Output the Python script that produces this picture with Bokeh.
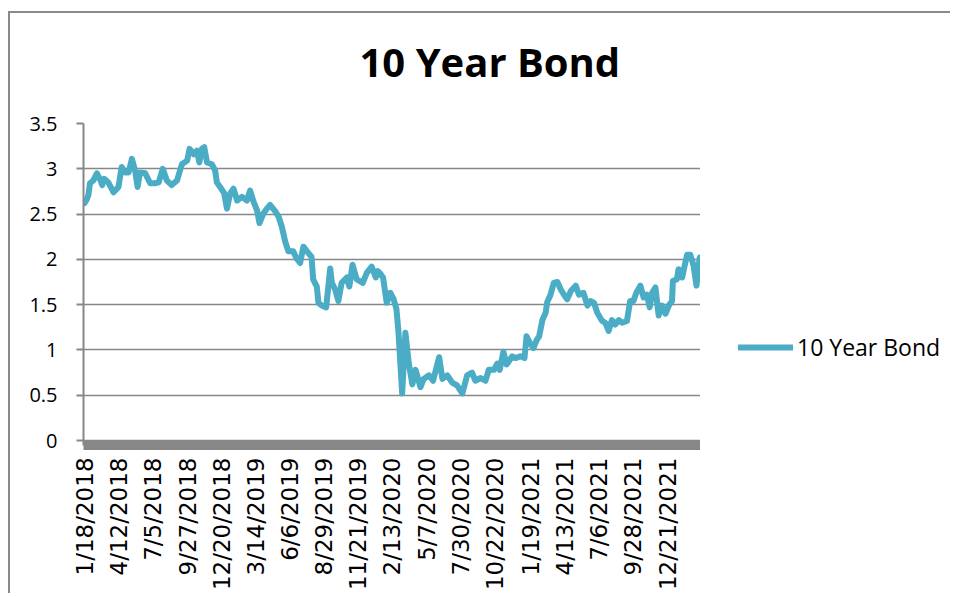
import numpy as np
import pandas as pd
from bokeh.plotting import figure
from bokeh.layouts import row
from bokeh.models import (ColumnDataSource, FixedTicker, NumeralTickFormatter,
                          Legend, LegendItem, Range1d, Title)
from bokeh.embed import file_html
from bokeh.resources import INLINE

title_text = "10 Year Bond"
series_name = "10 Year Bond"

dates = [
    "2018-01-16", "2018-01-22", "2018-01-26", "2018-01-30", "2018-02-07", "2018-02-16",
    "2018-02-26", "2018-03-01", "2018-03-06", "2018-03-16", "2018-03-29", "2018-04-10",
    "2018-04-18", "2018-04-26", "2018-05-05", "2018-05-13", "2018-05-21", "2018-05-27",
    "2018-06-02", "2018-06-15", "2018-06-27", "2018-07-09", "2018-07-18", "2018-07-28",
    "2018-08-07", "2018-08-19", "2018-09-01", "2018-09-13", "2018-09-26", "2018-10-02",
    "2018-10-12", "2018-10-20", "2018-10-26", "2018-11-01", "2018-11-07", "2018-11-14",
    "2018-11-26", "2018-12-04", "2018-12-08", "2018-12-16", "2018-12-26", "2019-01-02",
    "2019-01-10", "2019-01-18", "2019-01-27", "2019-02-08", "2019-02-20", "2019-02-28",
    "2019-03-08", "2019-03-17", "2019-03-23", "2019-04-02", "2019-04-10", "2019-04-18",
    "2019-05-01", "2019-05-09", "2019-05-17", "2019-05-25", "2019-06-02", "2019-06-14",
    "2019-06-22", "2019-07-01", "2019-07-09", "2019-07-21", "2019-07-29", "2019-08-02",
    "2019-08-11", "2019-08-15", "2019-08-23", "2019-09-03", "2019-09-13", "2019-09-17",
    "2019-09-25", "2019-10-03", "2019-10-11", "2019-10-24", "2019-10-30", "2019-11-07",
    "2019-11-17", "2019-12-02", "2019-12-12", "2019-12-24", "2020-01-03", "2020-01-08",
    "2020-01-13", "2020-01-21", "2020-01-30", "2020-02-08", "2020-02-16", "2020-02-23",
    "2020-02-28", "2020-03-08", "2020-03-16", "2020-03-24", "2020-04-02", "2020-04-10",
    "2020-04-22", "2020-04-30", "2020-05-13", "2020-05-23", "2020-06-07", "2020-06-15",
    "2020-06-27", "2020-07-09", "2020-07-21", "2020-08-03", "2020-08-15", "2020-08-27",
    "2020-09-04", "2020-09-17", "2020-09-29", "2020-10-07", "2020-10-20", "2020-10-28",
    "2020-11-03", "2020-11-12", "2020-11-20", "2020-12-04", "2020-12-12", "2020-12-24",
    "2021-01-03", "2021-01-08", "2021-01-16", "2021-01-25", "2021-02-02", "2021-02-08",
    "2021-02-16", "2021-02-24", "2021-02-28", "2021-03-08", "2021-03-16", "2021-03-25",
    "2021-04-02", "2021-04-10", "2021-04-18", "2021-04-27", "2021-05-09", "2021-05-17",
    "2021-05-28", "2021-06-07", "2021-06-15", "2021-06-23", "2021-07-01", "2021-07-13",
    "2021-07-21", "2021-07-29", "2021-08-06", "2021-08-14", "2021-08-23", "2021-08-31",
    "2021-09-12", "2021-09-20", "2021-09-28", "2021-10-05", "2021-10-15", "2021-10-23",
    "2021-10-31", "2021-11-07", "2021-11-13", "2021-11-21", "2021-11-29", "2021-12-07",
    "2021-12-16", "2021-12-24", "2022-01-01", "2022-01-03", "2022-01-13", "2022-01-17",
    "2022-01-26", "2022-01-30", "2022-02-07", "2022-02-15", "2022-02-23", "2022-03-02",
    "2022-03-10",
]

yields = [
    2.62, 2.66, 2.71, 2.84, 2.87, 2.95,
    2.86, 2.82, 2.89, 2.85, 2.74, 2.80,
    3.02, 2.96, 2.96, 3.11, 2.98, 2.80,
    2.96, 2.95, 2.84, 2.84, 2.85, 3.00,
    2.87, 2.82, 2.87, 3.05, 3.09, 3.22,
    3.16, 3.20, 3.07, 3.22, 3.24, 3.07,
    3.05, 2.98, 2.85, 2.80, 2.73, 2.56,
    2.73, 2.78, 2.65, 2.69, 2.65, 2.76,
    2.64, 2.54, 2.40, 2.51, 2.56, 2.60,
    2.53, 2.47, 2.36, 2.20, 2.09, 2.09,
    2.01, 1.96, 2.14, 2.07, 2.03, 1.78,
    1.70, 1.52, 1.49, 1.47, 1.90, 1.74,
    1.67, 1.54, 1.74, 1.80, 1.70, 1.94,
    1.78, 1.74, 1.85, 1.92, 1.80, 1.87,
    1.85, 1.80, 1.52, 1.63, 1.56, 1.45,
    1.19, 0.52, 1.19, 0.86, 0.62, 0.78,
    0.59, 0.68, 0.72, 0.66, 0.92, 0.68,
    0.72, 0.64, 0.61, 0.52, 0.72, 0.75,
    0.66, 0.69, 0.66, 0.78, 0.78, 0.85,
    0.78, 0.98, 0.84, 0.93, 0.91, 0.93,
    0.91, 1.15, 1.08, 1.02, 1.11, 1.15,
    1.33, 1.41, 1.53, 1.61, 1.74, 1.75,
    1.67, 1.61, 1.56, 1.65, 1.71, 1.61,
    1.63, 1.49, 1.54, 1.52, 1.41, 1.32,
    1.30, 1.21, 1.33, 1.28, 1.33, 1.30,
    1.32, 1.54, 1.54, 1.63, 1.71, 1.58,
    1.61, 1.47, 1.63, 1.69, 1.38, 1.49,
    1.40, 1.49, 1.54, 1.76, 1.78, 1.89,
    1.80, 1.89, 2.05, 2.05, 1.93, 1.71,
    2.02,
]

tick_dates = [
    "2018-01-18", "2018-04-12", "2018-07-05", "2018-09-27", "2018-12-20", "2019-03-14",
    "2019-06-06", "2019-08-29", "2019-11-21", "2020-02-13", "2020-05-07", "2020-07-30",
    "2020-10-22", "2021-01-19", "2021-04-13", "2021-07-06", "2021-09-28", "2021-12-21",
]
tick_labels = [
    "1/18/2018", "4/12/2018", "7/5/2018", "9/27/2018", "12/20/2018", "3/14/2019",
    "6/6/2019", "8/29/2019", "11/21/2019", "2/13/2020", "5/7/2020", "7/30/2020",
    "10/22/2020", "1/19/2021", "4/13/2021", "7/6/2021", "9/28/2021", "12/21/2021",
]
y_ticks = [0, 0.5, 1, 1.5, 2, 2.5, 3, 3.5]

GRAY = "#878787"
BORDER = "2px solid #8a8a8a"
LINE = "#4BACC6"
LW = 6

src = ColumnDataSource(dict(x=pd.to_datetime(dates), y=yields))

# ---- main chart -------------------------------------------------------------
p = figure(width=690, height=580, x_axis_type="datetime",
           output_backend="svg", toolbar_location=None,
           x_range=Range1d(pd.Timestamp("2018-01-14"), pd.Timestamp("2022-03-12")),
           y_range=Range1d(-0.055, 3.5),
           min_border_left=73, min_border_right=0,
           min_border_top=110, min_border_bottom=147)
p.outline_line_color = None
p.background_fill_color = "white"
p.border_fill_color = "white"

r = p.line("x", "y", source=src, line_color=LINE, line_width=LW,
           line_join="round", line_cap="round")

tick_ms = [float(pd.Timestamp(d).value // 10**6) for d in tick_dates]
xa = p.xaxis[0]
xa.ticker = FixedTicker(ticks=tick_ms)
xa.major_label_overrides = {t: lab for t, lab in zip(tick_ms, tick_labels)}
xa.major_label_orientation = np.pi / 2
xa.major_tick_out = 0
xa.major_tick_in = 0
xa.minor_tick_out = 0
xa.minor_tick_in = 0
xa.axis_line_color = GRAY
xa.axis_line_width = 9
xa.major_label_standoff = 12
xa.major_label_text_font = "DejaVu Sans"
xa.major_label_text_font_size = "23px"
xa.major_label_text_color = "black"

ya = p.yaxis[0]
ya.ticker = FixedTicker(ticks=y_ticks)
ya.formatter = NumeralTickFormatter(format="0.[0]")
ya.axis_line_color = GRAY
ya.axis_line_width = 2
ya.major_tick_out = 7
ya.major_tick_in = 0
ya.major_tick_line_color = GRAY
ya.major_tick_line_width = 2
ya.minor_tick_out = 0
ya.minor_tick_in = 0
ya.major_label_standoff = 19
ya.major_label_text_font = "Open Sans"
ya.major_label_text_font_size = "20px"
ya.major_label_text_color = "black"

p.xgrid.grid_line_color = None
p.ygrid.ticker = FixedTicker(ticks=y_ticks)
p.ygrid.grid_line_color = GRAY
p.ygrid.grid_line_width = 1.5

# spacer panel between the frame and the title
spacer = Title(text=" ", text_font_size="1px", standoff=32, text_color="white")
p.add_layout(spacer, "above")

p.title.text = title_text
p.title.align = "left"
p.title.offset = 276
p.title.standoff = 0
p.title.vertical_align = "bottom"
p.title.text_font = "Open Sans"
p.title.text_font_style = "bold"
p.title.text_font_size = "40px"
p.title.text_color = "black"

# ---- legend area to the right of the chart --------------------------------
# the key renderer shares the series data but lies outside this panel's ranges
q = figure(width=250, height=580, output_backend="svg", toolbar_location=None,
           x_axis_location=None, y_axis_location=None,
           x_range=Range1d(0, 1), y_range=Range1d(0, 1),
           min_border_left=0, min_border_right=0,
           min_border_top=0, min_border_bottom=0)
q.outline_line_color = None
q.grid.visible = False
q.background_fill_color = "white"
q.border_fill_color = "white"
key = q.line("x", "y", source=src, line_color=LINE, line_width=LW,
             line_join="round", line_cap="round")

legend = Legend(items=[LegendItem(label=series_name, renderers=[key])],
                location=(38, 82), orientation="vertical",
                glyph_width=55, glyph_height=30, label_height=30,
                label_standoff=4, padding=0, margin=0, spacing=0,
                border_line_color=None, background_fill_alpha=0,
                label_text_font="Open Sans", label_text_font_size="23px",
                label_text_color="black")
q.add_layout(legend, "center")

layout = row(p, q, spacing=0)
layout.styles = {"margin-left": "8px", "margin-top": "11px",
                 "border-left": BORDER, "border-top": BORDER}
open("out.html", "w").write(file_html(layout, INLINE))
